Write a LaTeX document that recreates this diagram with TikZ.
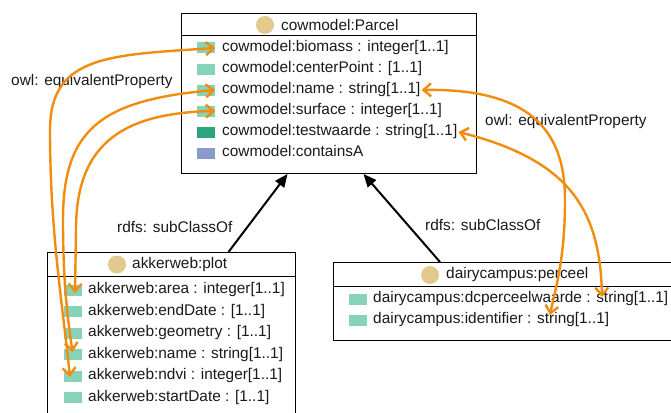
\documentclass[tikz,border=0pt]{standalone}
\usepackage{fontspec}
\setmainfont{Liberation Sans}
\usetikzlibrary{arrows.meta,calc}
\definecolor{iconc}{HTML}{86D3B7}
\definecolor{icondark}{HTML}{2BA57F}
\definecolor{iconblue}{HTML}{8A9ACC}
\definecolor{dotc}{HTML}{E3C98E}
\definecolor{orangec}{HTML}{F28C0F}
\definecolor{txt}{HTML}{1A1A1A}
\begin{document}
\begin{tikzpicture}[x=1pt,y=-1pt,
  every node/.style={font=\fontsize{15.4}{18}\selectfont, text=txt},
  classbox/.style={draw=black, line width=1pt, anchor=north west, inner sep=0, fill=white},
  row/.style={anchor=west, inner sep=1pt, text height=11pt, text depth=3.5pt},
  icn/.style={fill=iconc, minimum width=18pt, minimum height=11pt, inner sep=0, draw=none},
  dot/.style={circle, fill=dotc, minimum size=18pt, inner sep=0},
  equiv/.style={draw=orangec, line width=2.4pt, line cap=round,
    {Straight Barb[length=7.5pt,width=13pt]}-{Straight Barb[length=7.5pt,width=13pt]}},
  subarrow/.style={draw=black, line width=2pt, -{Triangle[length=13pt,width=11pt]}},
  lbl/.style={anchor=west, inner sep=0}
]
\useasboundingbox (0,0) rectangle (671,412);

% ---- cowmodel:Parcel ----
\node[classbox, minimum width=295pt, minimum height=160pt] (cow) at (181,13) {};
\draw[line width=1pt] ([yshift=-23pt]cow.north west) -- ([yshift=-23pt]cow.north east);
\node[dot] (cowdot) at (265,25) {};
\node[lbl] (cowtitle) at (281,24.5) {cowmodel:Parcel};
\node[icn] (cbiomi) at (206,48) {};
\node[row] (cbiom) at (221,48) {cowmodel:biomass : integer[1..1]};
\node[icn] (ccenti) at (206,69) {};
\node[row] (ccent) at (221,69) {cowmodel:centerPoint : [1..1]};
\node[icn] (cnamei) at (206,90) {};
\node[row] (cname) at (221,90) {cowmodel:name : string[1..1]};
\node[icn] (csurfi) at (206,111) {};
\node[row] (csurf) at (221,111) {cowmodel:surface : integer[1..1]};
\node[icn, fill=icondark] (ctesti) at (206,132) {};
\node[row] (ctest) at (221,132) {cowmodel:testwaarde : string[1..1]};
\node[icn, fill=iconblue] (ccontai) at (206,153) {};
\node[row] (ccont) at (221,153) {cowmodel:containsA};

% ---- akkerweb:plot ----
\node[classbox, minimum width=248pt, minimum height=180pt] (akker) at (47,252) {};
\draw[line width=1pt] ([yshift=-24pt]akker.north west) -- ([yshift=-24pt]akker.north east);
\node[dot] (akdot) at (117,264.5) {};
\node[lbl] (aktitle) at (132,264.5) {akkerweb:plot};
\node[icn] (aareai) at (72.5,290) {};
\node[row] (aarea) at (87,290) {akkerweb:area : integer[1..1]};
\node[icn] (aendi) at (72.5,311.5) {};
\node[row] (aend) at (87,311.5) {akkerweb:endDate : [1..1]};
\node[icn] (ageoi) at (72.5,333) {};
\node[row] (ageo) at (87,333) {akkerweb:geometry : [1..1]};
\node[icn] (anamei) at (72.5,354.5) {};
\node[row] (aname) at (87,354.5) {akkerweb:name : string[1..1]};
\node[icn] (andvii) at (72.5,376) {};
\node[row] (andvi) at (87,376) {akkerweb:ndvi : integer[1..1]};
\node[icn] (astarti) at (72.5,397.5) {};
\node[row] (astart) at (87,397.5) {akkerweb:startDate : [1..1]};

% ---- dairycampus:perceel ----
\node[classbox, minimum width=350pt, minimum height=78pt] (dairy) at (333,262) {};
\draw[line width=1pt] ([yshift=-24pt]dairy.north west) -- ([yshift=-24pt]dairy.north east);
\node[dot] (ddot) at (430,275) {};
\node[lbl] (dtitle) at (446,275) {dairycampus:perceel};
\node[icn] (dwaardei) at (358,299) {};
\node[row] (dwaarde) at (372,299) {dairycampus:dcperceelwaarde : string[1..1]};
\node[icn] (didenti) at (358,320) {};
\node[row] (dident) at (372,320) {dairycampus:identifier : string[1..1]};

% ---- labels ----
\node[lbl] (eqleft) at (11,82) {owl: equivalentProperty};
\node[lbl] (eqright) at (485,122) {owl: equivalentProperty};
\node[lbl] (subleft) at (117,227) {rdfs: subClassOf};
\node[lbl] (subright) at (425,225) {rdfs: subClassOf};

% ---- subClassOf ----
\draw[subarrow] ([xshift=57pt]akker.north) -- ([xshift=-41.5pt]cow.south);
\draw[subarrow] ([xshift=-68.5pt]dairy.north) -- ([xshift=34.5pt]cow.south);

% ---- equivalentProperty ----
\coordinate (tipndvi) at ($(andvii.center)+(-2.5,1)$);
\coordinate (tipaname) at ($(anamei.center)+(0,-2.5)$);
\coordinate (tiparea) at ($(aareai.center)+(2.5,3)$);
\coordinate (tipident) at ($(dident.west)+(178,-5)$);
\coordinate (tipwaarde) at ($(dwaarde.west)+(230,-2)$);

\draw[equiv] (cbiomi.east) .. controls (110,55) and (50,55) .. (50,130)
  .. controls (50,230) and (62,300) .. (tipndvi);
\draw[equiv] (cnamei.east) .. controls (100,100) and (63,130) .. (63,220)
  .. controls (63,285) and (68,320) .. (tipaname);
\draw[equiv] (csurfi.east) .. controls (115,113) and (76,150) .. (76,230) -- (tiparea);
\draw[equiv] (cname.east) .. controls (540,88) and (565,140) .. (565,200)
  .. controls (565,260) and (555,290) .. (tipident);
\draw[equiv] (ctest.east) .. controls (570,160) and (600,210) .. (tipwaarde);
\end{tikzpicture}
\end{document}
